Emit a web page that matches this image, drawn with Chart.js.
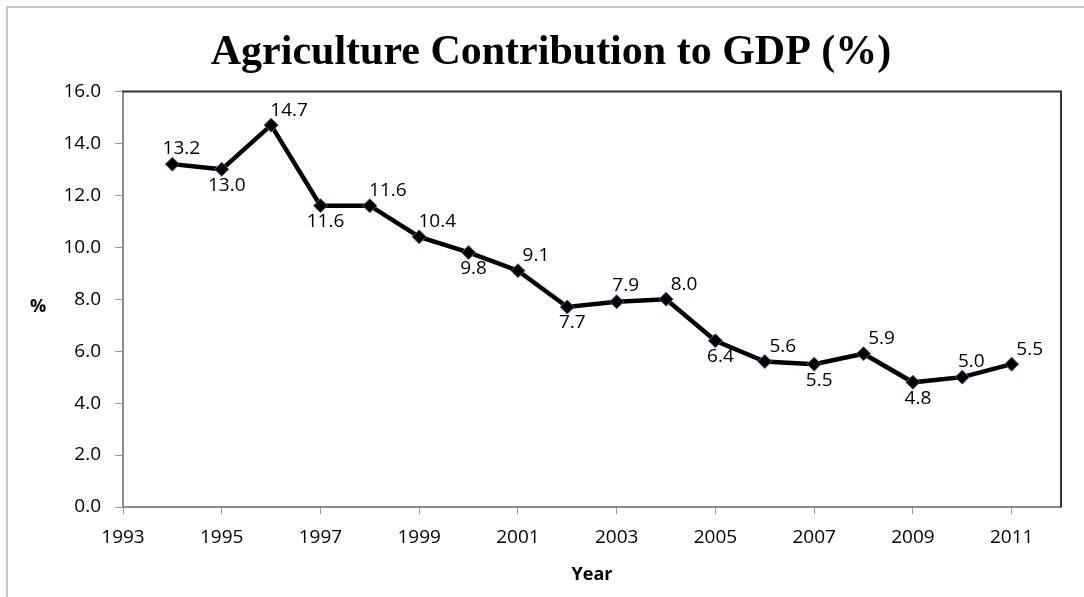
<!DOCTYPE html>
<html lang="en">
<head>
    <meta charset="UTF-8">
    <title>Agriculture Contribution to GDP (%)</title>
    <script src="https://cdn.jsdelivr.net/npm/chart.js"></script>
    <style>
        body {
            margin: 0;
            padding: 0;
            background-color: #fff;
        }
        .chart-box {
            width: 1084px;
            height: 597px;
        }
    </style>
</head>
<body>
    <div class="chart-box">
        <canvas id="agriChart"></canvas>
    </div>

    <script>
        // Data
        const years = [1994, 1995, 1996, 1997, 1998, 1999, 2000, 2001, 2002, 2003,
                       2004, 2005, 2006, 2007, 2008, 2009, 2010, 2011];
        const agriShare = [13.2, 13.0, 14.7, 11.6, 11.6, 10.4, 9.8, 9.1, 7.7, 7.9,
                           8.0, 6.4, 5.6, 5.5, 5.9, 4.8, 5.0, 5.5];
        const yearTicks = [1993, 1995, 1997, 1999, 2001, 2003, 2005, 2007, 2009, 2011];

        // where each value label sits: a = above, b = below, r = above right
        const labelSide = ['a', 'b', 'r', 'b', 'r', 'r', 'b', 'r', 'b', 'a',
                           'r', 'b', 'r', 'b', 'r', 'b', 'a', 'r'];

        const labelFont = '19px "Open Sans", sans-serif';

        // frame lines, plot border and the "%" axis title
        const decorPlugin = {
            id: 'decor',
            beforeDraw(chart) {
                const ctx = chart.ctx;
                ctx.save();
                ctx.strokeStyle = '#c8c8c8';
                ctx.lineWidth = 2;
                ctx.beginPath();
                ctx.moveTo(7, chart.height);
                ctx.lineTo(7, 7);
                ctx.lineTo(chart.width, 7);
                ctx.stroke();
                ctx.restore();
            },
            afterDraw(chart) {
                const a = chart.chartArea;
                const ctx = chart.ctx;
                ctx.save();
                ctx.strokeStyle = '#333';
                ctx.lineWidth = 2;
                ctx.beginPath();
                ctx.moveTo(a.left, a.top);
                ctx.lineTo(a.right, a.top);
                ctx.lineTo(a.right, a.bottom);
                ctx.stroke();
                ctx.fillStyle = '#000';
                ctx.font = 'bold 18px "Open Sans", sans-serif';
                ctx.textAlign = 'center';
                ctx.textBaseline = 'middle';
                ctx.fillText('%', 38, (a.top + a.bottom) / 2 + 8);
                ctx.restore();
            }
        };

        // value labels next to each marker
        const valueLabels = {
            id: 'valueLabels',
            afterDatasetsDraw(chart) {
                const ctx = chart.ctx;
                const meta = chart.getDatasetMeta(0);
                ctx.save();
                ctx.font = labelFont;
                ctx.fillStyle = '#000';
                ctx.textAlign = 'center';
                ctx.textBaseline = 'middle';
                meta.data.forEach((pt, i) => {
                    let dx = 9, dy = -16;
                    if (labelSide[i] === 'b') { dx = 5; dy = 16; }
                    if (labelSide[i] === 'r') { dx = 18; dy = -15; }
                    ctx.fillText(agriShare[i].toFixed(1), pt.x + dx, pt.y + dy);
                });
                ctx.restore();
            }
        };

        const ctxAgri = document.getElementById('agriChart').getContext('2d');
        const agriChart = new Chart(ctxAgri, {
            type: 'line',
            data: {
                datasets: [{
                    label: 'Agriculture',
                    data: years.map((y, i) => ({ x: y, y: agriShare[i] })),
                    borderColor: '#000',
                    borderWidth: 4.5,
                    pointStyle: 'rectRot',
                    pointRadius: 7,
                    pointBackgroundColor: '#000',
                    pointBorderColor: '#3a5f8f',
                    pointBorderWidth: 1,
                    tension: 0
                }]
            },
            options: {
                responsive: true,
                maintainAspectRatio: false,
                animation: false,
                layout: {
                    padding: { left: 41, right: 23, top: 0, bottom: 0 }
                },
                plugins: {
                    legend: { display: false },
                    tooltip: { enabled: false },
                    title: {
                        display: true,
                        text: 'Agriculture Contribution to GDP (%)',
                        color: '#000',
                        font: { family: '"Liberation Serif", serif', size: 42, weight: 'bold' },
                        padding: { top: 28, bottom: 13 }
                    }
                },
                scales: {
                    x: {
                        type: 'linear',
                        min: 1993,
                        max: 2012,
                        afterBuildTicks: (axis) => {
                            axis.ticks = yearTicks.map(v => ({ value: v }));
                        },
                        afterFit: (axis) => { axis.height = 90; },
                        grid: {
                            display: true,
                            drawOnChartArea: false,
                            drawTicks: true,
                            tickLength: 7,
                            color: '#999'
                        },
                        border: { color: '#8c8c8c', width: 2 },
                        ticks: {
                            color: '#000',
                            font: { family: '"Open Sans", sans-serif', size: 19 },
                            padding: 12,
                            maxRotation: 0,
                            callback: (v) => String(v)
                        },
                        title: {
                            display: true,
                            text: 'Year',
                            color: '#000',
                            font: { family: '"Open Sans", sans-serif', size: 18, weight: 'bold' },
                            padding: { top: 0, bottom: 11 }
                        }
                    },
                    y: {
                        min: 0,
                        max: 16,
                        afterFit: (axis) => { axis.width = 82; },
                        grid: {
                            display: true,
                            drawOnChartArea: false,
                            drawTicks: true,
                            tickLength: 8,
                            color: '#999'
                        },
                        border: { color: '#8c8c8c', width: 2 },
                        ticks: {
                            stepSize: 2,
                            color: '#000',
                            font: { family: '"Open Sans", sans-serif', size: 19 },
                            padding: 14,
                            callback: (v) => v.toFixed(1)
                        }
                    }
                }
            },
            plugins: [decorPlugin, valueLabels]
        });
    </script>
</body>
</html>
